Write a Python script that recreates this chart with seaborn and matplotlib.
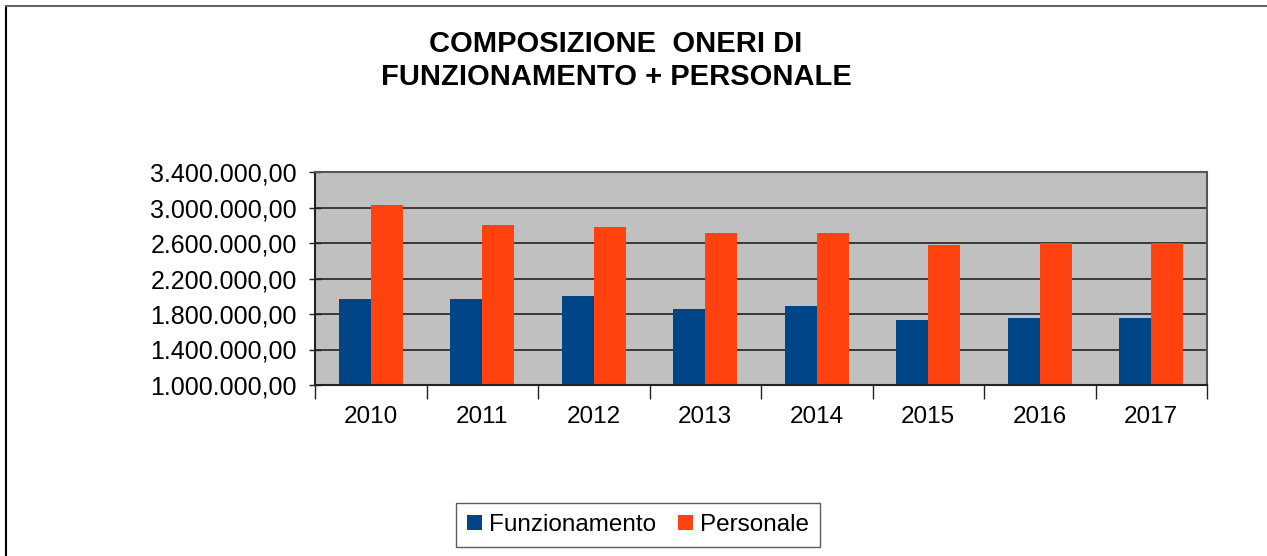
import numpy as np
import pandas as pd
import matplotlib
matplotlib.use("Agg")
import matplotlib.pyplot as plt
import seaborn as sns
from matplotlib.ticker import FuncFormatter, FixedLocator

# --- data ---
anni = ["2010", "2011", "2012", "2013", "2014", "2015", "2016", "2017"]
funzionamento = [1971000, 1970000, 2005000, 1858000, 1892000, 1734000, 1756000, 1756000]
personale = [3032000, 2806000, 2784000, 2716000, 2716000, 2580000, 2603000, 2603000]
serie = ["Funzionamento", "Personale"]
colori = ["#004586", "#FF420E"]
y_ticks = [1000000, 1400000, 1800000, 2200000, 2600000, 3000000, 3400000]

df = pd.DataFrame({
    "Anno": anni * 2,
    "Serie": [serie[0]] * len(anni) + [serie[1]] * len(anni),
    "Valore": funzionamento + personale,
})

sns.set_style("white")
plt.rcParams["font.family"] = ["Liberation Sans", "DejaVu Sans"]
plt.rcParams["text.color"] = "black"
plt.rcParams["xtick.color"] = "black"
plt.rcParams["ytick.color"] = "black"

fig = plt.figure(figsize=(12.67, 5.56), dpi=100)
ax = fig.add_axes([315 / 1267, 1 - 385 / 556, (1207 - 315) / 1267, (385 - 172) / 556])

sns.barplot(data=df, x="Anno", y="Valore", hue="Serie", palette=colori,
            width=0.574, saturation=1, linewidth=0, ax=ax, legend=True)

ax.set_facecolor("#C0C0C0")
ax.set_ylim(1000000, 3400000)
ax.set_xlim(-0.5, len(anni) - 0.5)
ax.yaxis.set_major_locator(FixedLocator(y_ticks))
ax.yaxis.set_major_formatter(FuncFormatter(
    lambda v, p: f"{v:,.2f}".replace(",", "X").replace(".", ",").replace("X", ".")))
ax.grid(axis="y", color="#222222", linewidth=1.2)
ax.set_axisbelow(True)
ax.set_xlabel("")
ax.set_ylabel("")

# x ticks between categories
ax.xaxis.set_minor_locator(FixedLocator(np.arange(-0.5, len(anni), 1.0)))
ax.tick_params(axis="x", which="major", bottom=True, length=0, labelsize=17.5, pad=15)
ax.tick_params(axis="x", which="minor", bottom=True, length=10, width=1,
               color="#222222", direction="out")
ax.tick_params(axis="y", left=True, length=8, width=1, color="#222222", direction="inout",
               labelsize=18, labelcolor="black", pad=9)
ax.tick_params(axis="x", labelcolor="black")

for s in ["left", "bottom"]:
    ax.spines[s].set_color("#222222")
    ax.spines[s].set_linewidth(1.5)
for s in ["top", "right"]:
    ax.spines[s].set_visible(True)
    ax.spines[s].set_color("#555555")
    ax.spines[s].set_linewidth(1.5)

# title
fig.text(616 / 1267, 1 - 44 / 556, "COMPOSIZIONE  ONERI DI", ha="center", va="center",
         fontsize=21, fontweight="bold", color="black")
fig.text(616 / 1267, 1 - 77 / 556, "FUNZIONAMENTO + PERSONALE", ha="center", va="center",
         fontsize=21, fontweight="bold", color="black")

# legend
handles, labels = ax.get_legend_handles_labels()
ax.get_legend().remove()
leg = fig.legend(handles, labels, loc="center", bbox_to_anchor=(638 / 1267, 1 - 525 / 556),
                 ncol=2, fontsize=17.5, frameon=True, fancybox=False,
                 handlelength=0.6, handleheight=0.6, handletextpad=0.3,
                 columnspacing=0.9, borderpad=0.45, borderaxespad=0)
leg.get_frame().set_edgecolor("#333333")
leg.get_frame().set_linewidth(1.0)
for t in leg.get_texts():
    t.set_color("black")

# outer frame (left and top only)
fig.add_artist(plt.Line2D([6 / 1267, 6 / 1267], [0, 1 - 6 / 556], color="black", lw=1.5))
fig.add_artist(plt.Line2D([6 / 1267, 1], [1 - 6 / 556, 1 - 6 / 556], color="#666666", lw=1.5))

fig.savefig("out.png", dpi=100, facecolor="white")
